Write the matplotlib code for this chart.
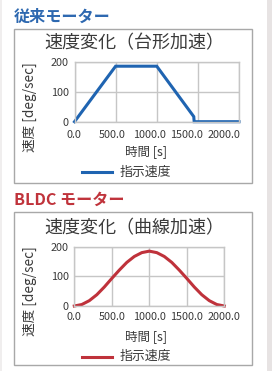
import matplotlib
matplotlib.use("Agg")
import matplotlib.pyplot as plt
from matplotlib.patches import Rectangle

plt.rcParams['font.family'] = ['Noto Sans CJK JP', 'DejaVu Sans']

# --- データ ---
trap_time = [0, 500, 1000, 1450, 1455, 2000]
trap_speed = [0, 185, 185, 17, 0, 0]

curve_time = [0, 100, 200, 300, 400, 500, 600, 700, 800, 900, 1000,
              1100, 1200, 1300, 1400, 1500, 1600, 1700, 1800, 1900, 2000]
curve_speed = [0, 5, 18, 38, 64, 93, 121, 147, 167, 180, 185,
               180, 167, 147, 121, 93, 64, 38, 18, 5, 0]

x_ticks = [0, 500, 1000, 1500, 2000]
y_ticks = [0, 100, 200]

W, H = 272, 371
BLUE = '#1f64b1'
RED = '#bf323b'
TXT = '#3a3a3a'
GRID = '#c6c6c6'
TICK_FS = 7.8


def fx(x):
    return x / W


def fy(y):
    return 1 - y / H


fig = plt.figure(figsize=(W / 100, H / 100), dpi=100)
fig.patch.set_facecolor('white')

# 左右の帯
fig.add_artist(Rectangle((fx(267), 0), fx(5), 1, transform=fig.transFigure,
                         facecolor='#e7e3e3', edgecolor='none'))
fig.add_artist(Rectangle((0, 0), fx(2), 1, transform=fig.transFigure,
                         facecolor='#f0eeee', edgecolor='none'))


def panel(top, bottom, right):
    fig.add_artist(Rectangle((fx(13.5), fy(bottom)), fx(right - 13.5), (bottom - top) / H,
                             transform=fig.transFigure, facecolor='none',
                             edgecolor='#a8a8a8', linewidth=1.0))


def make_axes(left, right, top, bottom):
    ax = fig.add_axes([fx(left), fy(bottom), fx(right - left), (bottom - top) / H])
    ax.set_xlim(0, 2000)
    ax.set_ylim(0, 200)
    ax.set_xticks(x_ticks)
    ax.set_yticks(y_ticks)
    ax.grid(True, color=GRID, linewidth=1.0)
    ax.set_axisbelow(True)
    for s in ax.spines.values():
        s.set_color(GRID)
        s.set_linewidth(1.0)
    ax.tick_params(length=0, labelsize=TICK_FS, colors=TXT, pad=4)
    ax.set_yticklabels([str(v) for v in y_ticks])
    return ax


# --- 従来モーター ---
fig.text(fx(14), fy(16.5), '従来モーター', color='#2d68b0', fontsize=11.6,
         fontweight='bold', ha='left', va='center')
panel(29, 182.7, 252.3)
ax1 = make_axes(74.5, 239, 61.7, 121.7)
ax1.plot(trap_time, trap_speed, color=BLUE, linewidth=2.2, clip_on=False,
         solid_joinstyle='miter')

# --- BLDC モーター ---
fig.text(fx(14), fy(200), 'BLDC モーター', color='#c0333b', fontsize=11.6,
         fontweight='bold', ha='left', va='center')
panel(211.7, 365, 251.7)
ax2 = make_axes(74.3, 224.3, 246.7, 306)
ax2.plot(curve_time, curve_speed, color=RED, linewidth=2.2, clip_on=False)
ax2.set_xticklabels([f'{v:.1f}' for v in x_ticks])

# 上のグラフの目盛ラベルは下のグラフと同じ横位置
ax1.set_xticklabels([])
fig.canvas.draw()
for v in x_ticks:
    xd = ax2.transData.transform((v, 0))[0]
    xf = fig.transFigure.inverted().transform((xd, 0))[0]
    fig.text(xf, fy(135), f'{v:.1f}', fontsize=TICK_FS, color=TXT,
             ha='center', va='center')

# タイトル・軸ラベル・凡例
for top, title, color, ax in [(0, '速度変化（台形加速）', BLUE, ax1),
                              (184.5, '速度変化（曲線加速）', RED, ax2)]:
    fig.text(fx(134.5), fy(top + 43.5), title, fontsize=13, color=TXT,
             ha='center', va='center')
    fig.text(fx(30), fy(top + 107), '速度 [deg/sec]', fontsize=9.8, color=TXT,
             rotation=90, ha='center', va='center')
    fig.text(fx(146), fy(top + 152), '時間 [s]', fontsize=9, color=TXT,
             ha='center', va='center')
    fig.add_artist(plt.Line2D([fx(82), fx(112)], [fy(top + 172)] * 2,
                              transform=fig.transFigure, color=color, linewidth=2.2))
    fig.text(fx(120), fy(top + 172), '指示速度', fontsize=9.3, color=TXT,
             ha='left', va='center')

fig.savefig('out.png', dpi=100)
